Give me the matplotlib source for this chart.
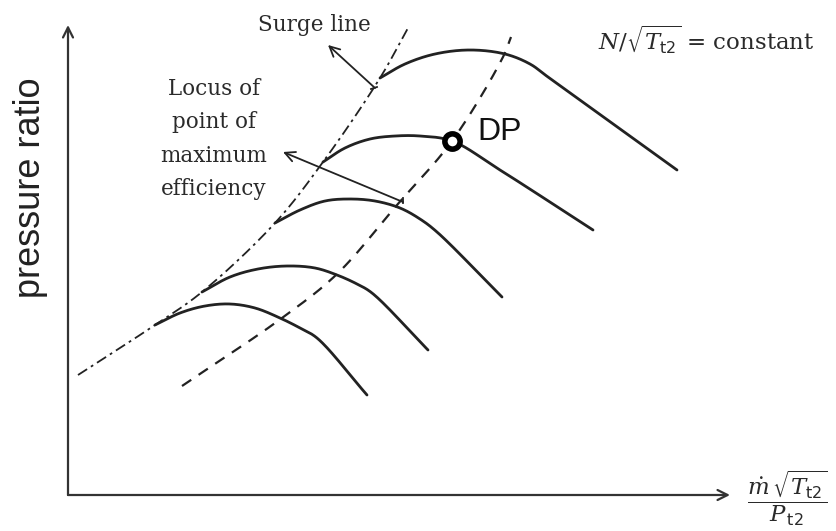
import numpy as np
import matplotlib
matplotlib.use("Agg")
import matplotlib.pyplot as plt

# ---- data (schematic coordinates: x = corrected mass flow, y = pressure ratio) ----
speed1_x = [87, 112, 137, 162, 187, 212, 232, 249, 299]
speed1_y = [170, 182, 189, 191, 187, 177, 167, 157, 100]
speed2_x = [134, 162, 190, 219, 247, 269, 289, 304, 360]
speed2_y = [203, 218, 226, 229, 227, 220, 211, 202, 145]
speed3_x = [207, 232, 257, 282, 307, 332, 352, 369, 434]
speed3_y = [272, 285, 294, 296, 294, 287, 276, 263, 198]
speed4_x = [255, 277, 302, 327, 352, 384, 432, 525]
speed4_y = [333, 347, 356, 359, 359, 354, 325, 265]
speed5_x = [312, 337, 367, 402, 437, 462, 480, 609]
speed5_y = [417, 431, 441, 445, 441, 431, 418, 325]

surge_x = [10, 87, 134, 207, 255, 312, 340]
surge_y = [120, 170, 203, 272, 333, 417, 467]
locus_x = [114, 214, 269, 329, 384, 435, 443]
locus_y = [109, 177, 221, 290, 354, 438, 458]

dp_x, dp_y = 384, 354

speed_lines = [(speed1_x, speed1_y), (speed2_x, speed2_y), (speed3_x, speed3_y),
               (speed4_x, speed4_y), (speed5_x, speed5_y)]


def smooth(xs, ys, n=30):
    """Centripetal Catmull-Rom curve through the given points."""
    p = np.column_stack([xs, ys]).astype(float)
    p = np.vstack([2 * p[0] - p[1], p, 2 * p[-1] - p[-2]])
    out = []
    for i in range(1, len(p) - 2):
        p0, p1, p2, p3 = p[i - 1], p[i], p[i + 1], p[i + 2]
        t0 = 0.0
        t1 = t0 + np.linalg.norm(p1 - p0) ** 0.5
        t2 = t1 + np.linalg.norm(p2 - p1) ** 0.5
        t3 = t2 + np.linalg.norm(p3 - p2) ** 0.5
        t = np.linspace(t1, t2, n, endpoint=False)[:, None]
        a1 = (t1 - t) / (t1 - t0) * p0 + (t - t0) / (t1 - t0) * p1
        a2 = (t2 - t) / (t2 - t1) * p1 + (t - t1) / (t2 - t1) * p2
        a3 = (t3 - t) / (t3 - t2) * p2 + (t - t2) / (t3 - t2) * p3
        b1 = (t2 - t) / (t2 - t0) * a1 + (t - t0) / (t2 - t0) * a2
        b2 = (t3 - t) / (t3 - t1) * a2 + (t - t1) / (t3 - t1) * a3
        c = (t2 - t) / (t2 - t1) * b1 + (t - t1) / (t2 - t1) * b2
        out.append(c)
    out.append(p[-2][None, :])
    a = np.vstack(out)
    return a[:, 0], a[:, 1]


fig = plt.figure(figsize=(8.37, 5.31), dpi=100)
ax = fig.add_axes([0, 0, 1, 1])
ax.set_xlim(-68, 769)
ax.set_ylim(-36, 495)
ax.axis("off")

axis_col = "#333333"
line_col = "#222222"

# axes with arrows
ax.annotate("", xy=(0, 470), xytext=(0, 0),
            arrowprops=dict(arrowstyle="->", color=axis_col, lw=1.6, mutation_scale=18,
                            shrinkA=0, shrinkB=0))
ax.annotate("", xy=(662, 0), xytext=(0, 0),
            arrowprops=dict(arrowstyle="->", color=axis_col, lw=1.6, mutation_scale=18,
                            shrinkA=0, shrinkB=0))

# speed lines
for xs, ys in speed_lines:
    sx, sy = smooth(xs, ys)
    ax.plot(sx, sy, color=line_col, lw=2.0, solid_capstyle="round")

# surge line (dash-dot)
sx, sy = smooth(surge_x, surge_y)
ax.plot(sx, sy, color=line_col, lw=1.3, dashes=(6, 2.5, 1.5, 2.5))

# locus of max efficiency (dashed)
sx, sy = smooth(locus_x, locus_y)
ax.plot(sx, sy, color=line_col, lw=1.6, dashes=(5, 4))

# design point
ax.plot([dp_x], [dp_y], marker="o", ms=11, mfc="white", mec="black", mew=4)

serif = "DejaVu Serif"
ax.text(dp_x + 25, dp_y + 1, "DP", fontsize=23, family="Liberation Sans", color="#111111",
        ha="left", va="baseline")

# annotations with arrows
ax.annotate("", xy=(260, 450), xytext=(307, 407),
            arrowprops=dict(arrowstyle="->", color=line_col, lw=1.3, mutation_scale=18,
                            shrinkA=0, shrinkB=0))
ax.plot([303, 309], [406, 408], color=line_col, lw=1.3)
ax.annotate("", xy=(215, 343), xytext=(335, 293),
            arrowprops=dict(arrowstyle="->", color=line_col, lw=1.3, mutation_scale=18,
                            shrinkA=0, shrinkB=0))
ax.plot([335, 335], [292, 297], color=line_col, lw=1.3)

tc = "#2a2a2a"
ax.text(246, 464, "Surge line", family=serif, fontsize=15.5, ha="center", va="baseline", color=tc)
for label, by in [("Locus of", 400), ("point of", 367), ("maximum", 333), ("efficiency", 300)]:
    ax.text(146, by, label, family=serif, fontsize=15.5, ha="center", va="baseline", color=tc)

ax.text(530, 445, r"$N/\sqrt{T_{\mathsf{t2}}}$ = constant", family=serif, fontsize=16.5,
        ha="left", va="baseline", color=tc, math_fontfamily="dejavuserif")

ax.text(-37, 307, "pressure ratio", family="Liberation Sans", fontsize=26, rotation=90,
        ha="center", va="center", color="#222222")

ax.text(719, -3, r"$\dfrac{\dot{m}\,\sqrt{T_{\mathsf{t2}}}}{P_{\,\mathsf{t2}}}$", fontsize=16.5,
        ha="center", va="center", color=tc, math_fontfamily="dejavuserif")

fig.savefig("out.png", dpi=100)
